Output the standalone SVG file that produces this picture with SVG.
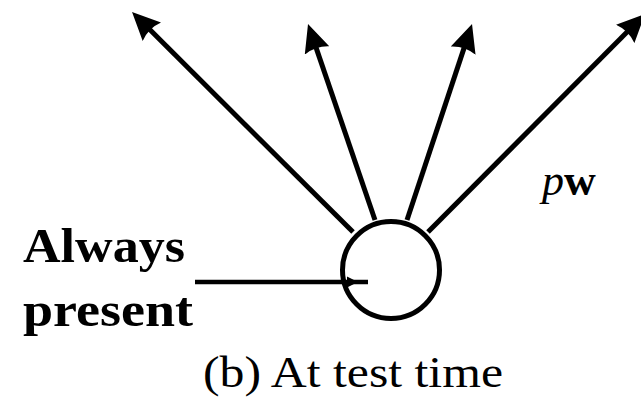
<svg xmlns="http://www.w3.org/2000/svg" width="641" height="398" viewBox="0 0 641 398">
<style>
.edge{stroke:#000;stroke-width:5;fill:none}
.lbl{font-family:"Liberation Serif","Times New Roman",serif;fill:#000}
.b{font-weight:bold}
</style>
<defs>
<marker id="ah" markerUnits="userSpaceOnUse" viewBox="0 0 28 26" markerWidth="28" markerHeight="26" refX="20" refY="13" orient="auto">
<path d="M0,0 L28,13 L0,26 Q5,13 0,0 Z" fill="#000"/>
</marker>
<marker id="sh" markerUnits="userSpaceOnUse" viewBox="0 0 10 12" markerWidth="10" markerHeight="12" refX="10" refY="6" orient="auto">
<path d="M0,0 L10,6 L0,12 Z" fill="#000"/>
</marker>
</defs>
<rect width="641" height="398" fill="#fff"/>
<g id="connectors">
<line class="edge" x1="353" y1="232" x2="137.7" y2="17.6" marker-end="url(#ah)"/>
<line class="edge" x1="375" y1="220" x2="310.6" y2="31.6" marker-end="url(#ah)"/>
<line class="edge" x1="407" y1="220" x2="469.5" y2="31.6" marker-end="url(#ah)"/>
<line class="edge" x1="428" y1="232" x2="639.3" y2="19.7" marker-end="url(#ah)"/>
<line class="edge" x1="195" y1="282" x2="368" y2="282" style="stroke-width:4.5"/>
<path d="M347,276.5 L358,282 L347,287.5 Z" fill="#000"/>
</g>
<g id="node">
<circle cx="391" cy="270" r="48.5" fill="none" stroke="#000" stroke-width="5"/>
</g>
<g id="label-always">
<text class="lbl b" x="23" y="262" font-size="48" textLength="162" lengthAdjust="spacingAndGlyphs">Always</text>
<text class="lbl b" x="23" y="326" font-size="48" textLength="170" lengthAdjust="spacingAndGlyphs">present</text>
</g>
<g id="label-pw">
<text class="lbl" x="542" y="195" font-size="44"><tspan font-style="italic">p</tspan><tspan font-weight="bold">w</tspan></text>
</g>
<g id="caption">
<text class="lbl" x="203" y="387" font-size="44" textLength="300" lengthAdjust="spacingAndGlyphs">(b) At test time</text>
</g>
</svg>
